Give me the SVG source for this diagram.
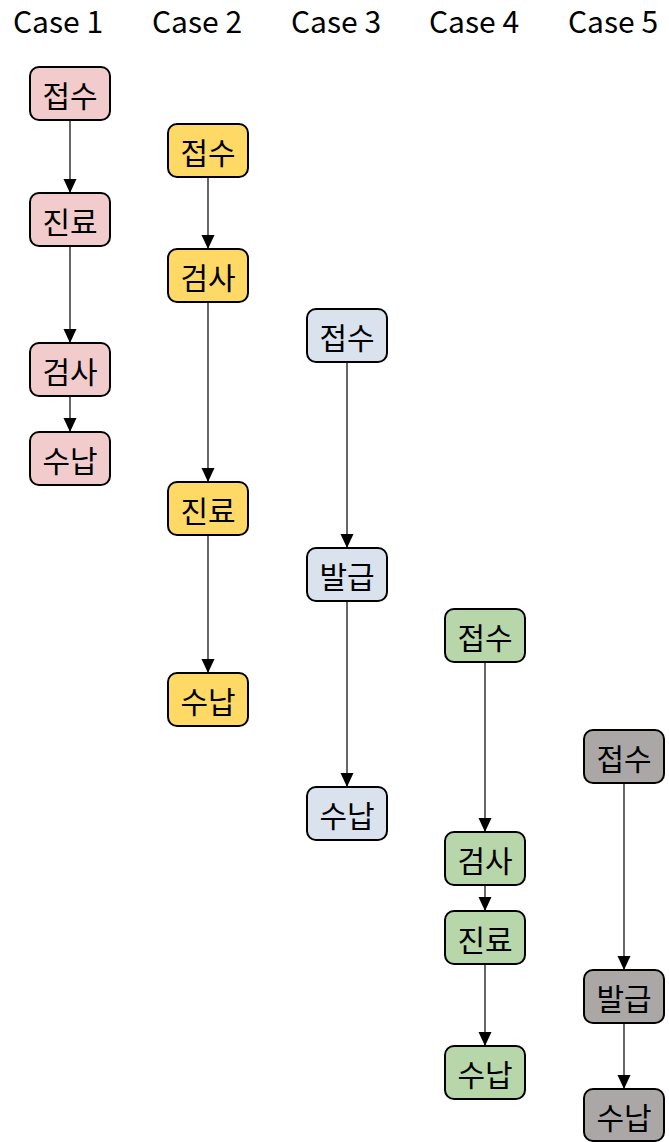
<svg xmlns="http://www.w3.org/2000/svg" width="669" height="1142" viewBox="0 0 669 1142">
<style>
.hdr{font-family:"Noto Sans CJK KR","Open Sans",sans-serif;font-size:30px;fill:#000;text-anchor:middle}
.lbl{font-family:"Noto Sans CJK KR",sans-serif;font-size:30px;fill:#000;text-anchor:middle;dominant-baseline:central}
.box{stroke:#000;stroke-width:2}
.c1{fill:#f2cccc}.c2{fill:#ffd966}.c3{fill:#dae2ee}.c4{fill:#b7d6a9}.c5{fill:#aba7a7}
.edge{stroke:#000;stroke-width:1.2;fill:none;marker-end:url(#ah)}
</style>
<defs>
<marker id="ah" markerWidth="14" markerHeight="14" refX="14" refY="7" orient="auto" markerUnits="userSpaceOnUse">
<path d="M0,0.5 L14,7 L0,13.5 Z" fill="#000"/>
</marker>
</defs>
<rect width="669" height="1142" fill="#fff"/>
<g id="headers">
<text class="hdr" x="58" y="33">Case 1</text>
<text class="hdr" x="197" y="33">Case 2</text>
<text class="hdr" x="336" y="33">Case 3</text>
<text class="hdr" x="474" y="33">Case 4</text>
<text class="hdr" x="613" y="33">Case 5</text>
</g>
<g id="edges">
<line class="edge" x1="70" y1="120" x2="70" y2="193"/>
<line class="edge" x1="70" y1="246" x2="70" y2="343"/>
<line class="edge" x1="70" y1="396" x2="70" y2="432"/>
<line class="edge" x1="208" y1="177" x2="208" y2="249"/>
<line class="edge" x1="208" y1="302" x2="208" y2="482"/>
<line class="edge" x1="208" y1="535" x2="208" y2="673"/>
<line class="edge" x1="347" y1="362" x2="347" y2="548"/>
<line class="edge" x1="347" y1="601" x2="347" y2="787"/>
<line class="edge" x1="485" y1="662" x2="485" y2="832"/>
<line class="edge" x1="485" y1="885" x2="485" y2="911"/>
<line class="edge" x1="485" y1="964" x2="485" y2="1046"/>
<line class="edge" x1="624" y1="783" x2="624" y2="970"/>
<line class="edge" x1="624" y1="1023" x2="624" y2="1089"/>
</g>
<g id="n1a"><rect class="box c1" x="30" y="67" width="80" height="53" rx="9"/><text class="lbl" x="70" y="94">접수</text></g>
<g id="n1b"><rect class="box c1" x="30" y="193" width="80" height="53" rx="9"/><text class="lbl" x="70" y="220">진료</text></g>
<g id="n1c"><rect class="box c1" x="30" y="343" width="80" height="53" rx="9"/><text class="lbl" x="70" y="370">검사</text></g>
<g id="n1d"><rect class="box c1" x="30" y="432" width="80" height="53" rx="9"/><text class="lbl" x="70" y="459">수납</text></g>
<g id="n2a"><rect class="box c2" x="168" y="124" width="80" height="53" rx="9"/><text class="lbl" x="208" y="151">접수</text></g>
<g id="n2b"><rect class="box c2" x="168" y="249" width="80" height="53" rx="9"/><text class="lbl" x="208" y="276">검사</text></g>
<g id="n2c"><rect class="box c2" x="168" y="482" width="80" height="53" rx="9"/><text class="lbl" x="208" y="509">진료</text></g>
<g id="n2d"><rect class="box c2" x="168" y="673" width="80" height="53" rx="9"/><text class="lbl" x="208" y="700">수납</text></g>
<g id="n3a"><rect class="box c3" x="307" y="309" width="80" height="53" rx="9"/><text class="lbl" x="347" y="336">접수</text></g>
<g id="n3b"><rect class="box c3" x="307" y="548" width="80" height="53" rx="9"/><text class="lbl" x="347" y="575">발급</text></g>
<g id="n3c"><rect class="box c3" x="307" y="787" width="80" height="53" rx="9"/><text class="lbl" x="347" y="814">수납</text></g>
<g id="n4a"><rect class="box c4" x="445" y="609" width="80" height="53" rx="9"/><text class="lbl" x="485" y="636">접수</text></g>
<g id="n4b"><rect class="box c4" x="445" y="832" width="80" height="53" rx="9"/><text class="lbl" x="485" y="859">검사</text></g>
<g id="n4c"><rect class="box c4" x="445" y="911" width="80" height="53" rx="9"/><text class="lbl" x="485" y="938">진료</text></g>
<g id="n4d"><rect class="box c4" x="445" y="1046" width="80" height="53" rx="9"/><text class="lbl" x="485" y="1073">수납</text></g>
<g id="n5a"><rect class="box c5" x="584" y="730" width="80" height="53" rx="9"/><text class="lbl" x="624" y="757">접수</text></g>
<g id="n5b"><rect class="box c5" x="584" y="970" width="80" height="53" rx="9"/><text class="lbl" x="624" y="997">발급</text></g>
<g id="n5c"><rect class="box c5" x="584" y="1089" width="80" height="52" rx="9"/><text class="lbl" x="624" y="1116">수납</text></g>
</svg>
